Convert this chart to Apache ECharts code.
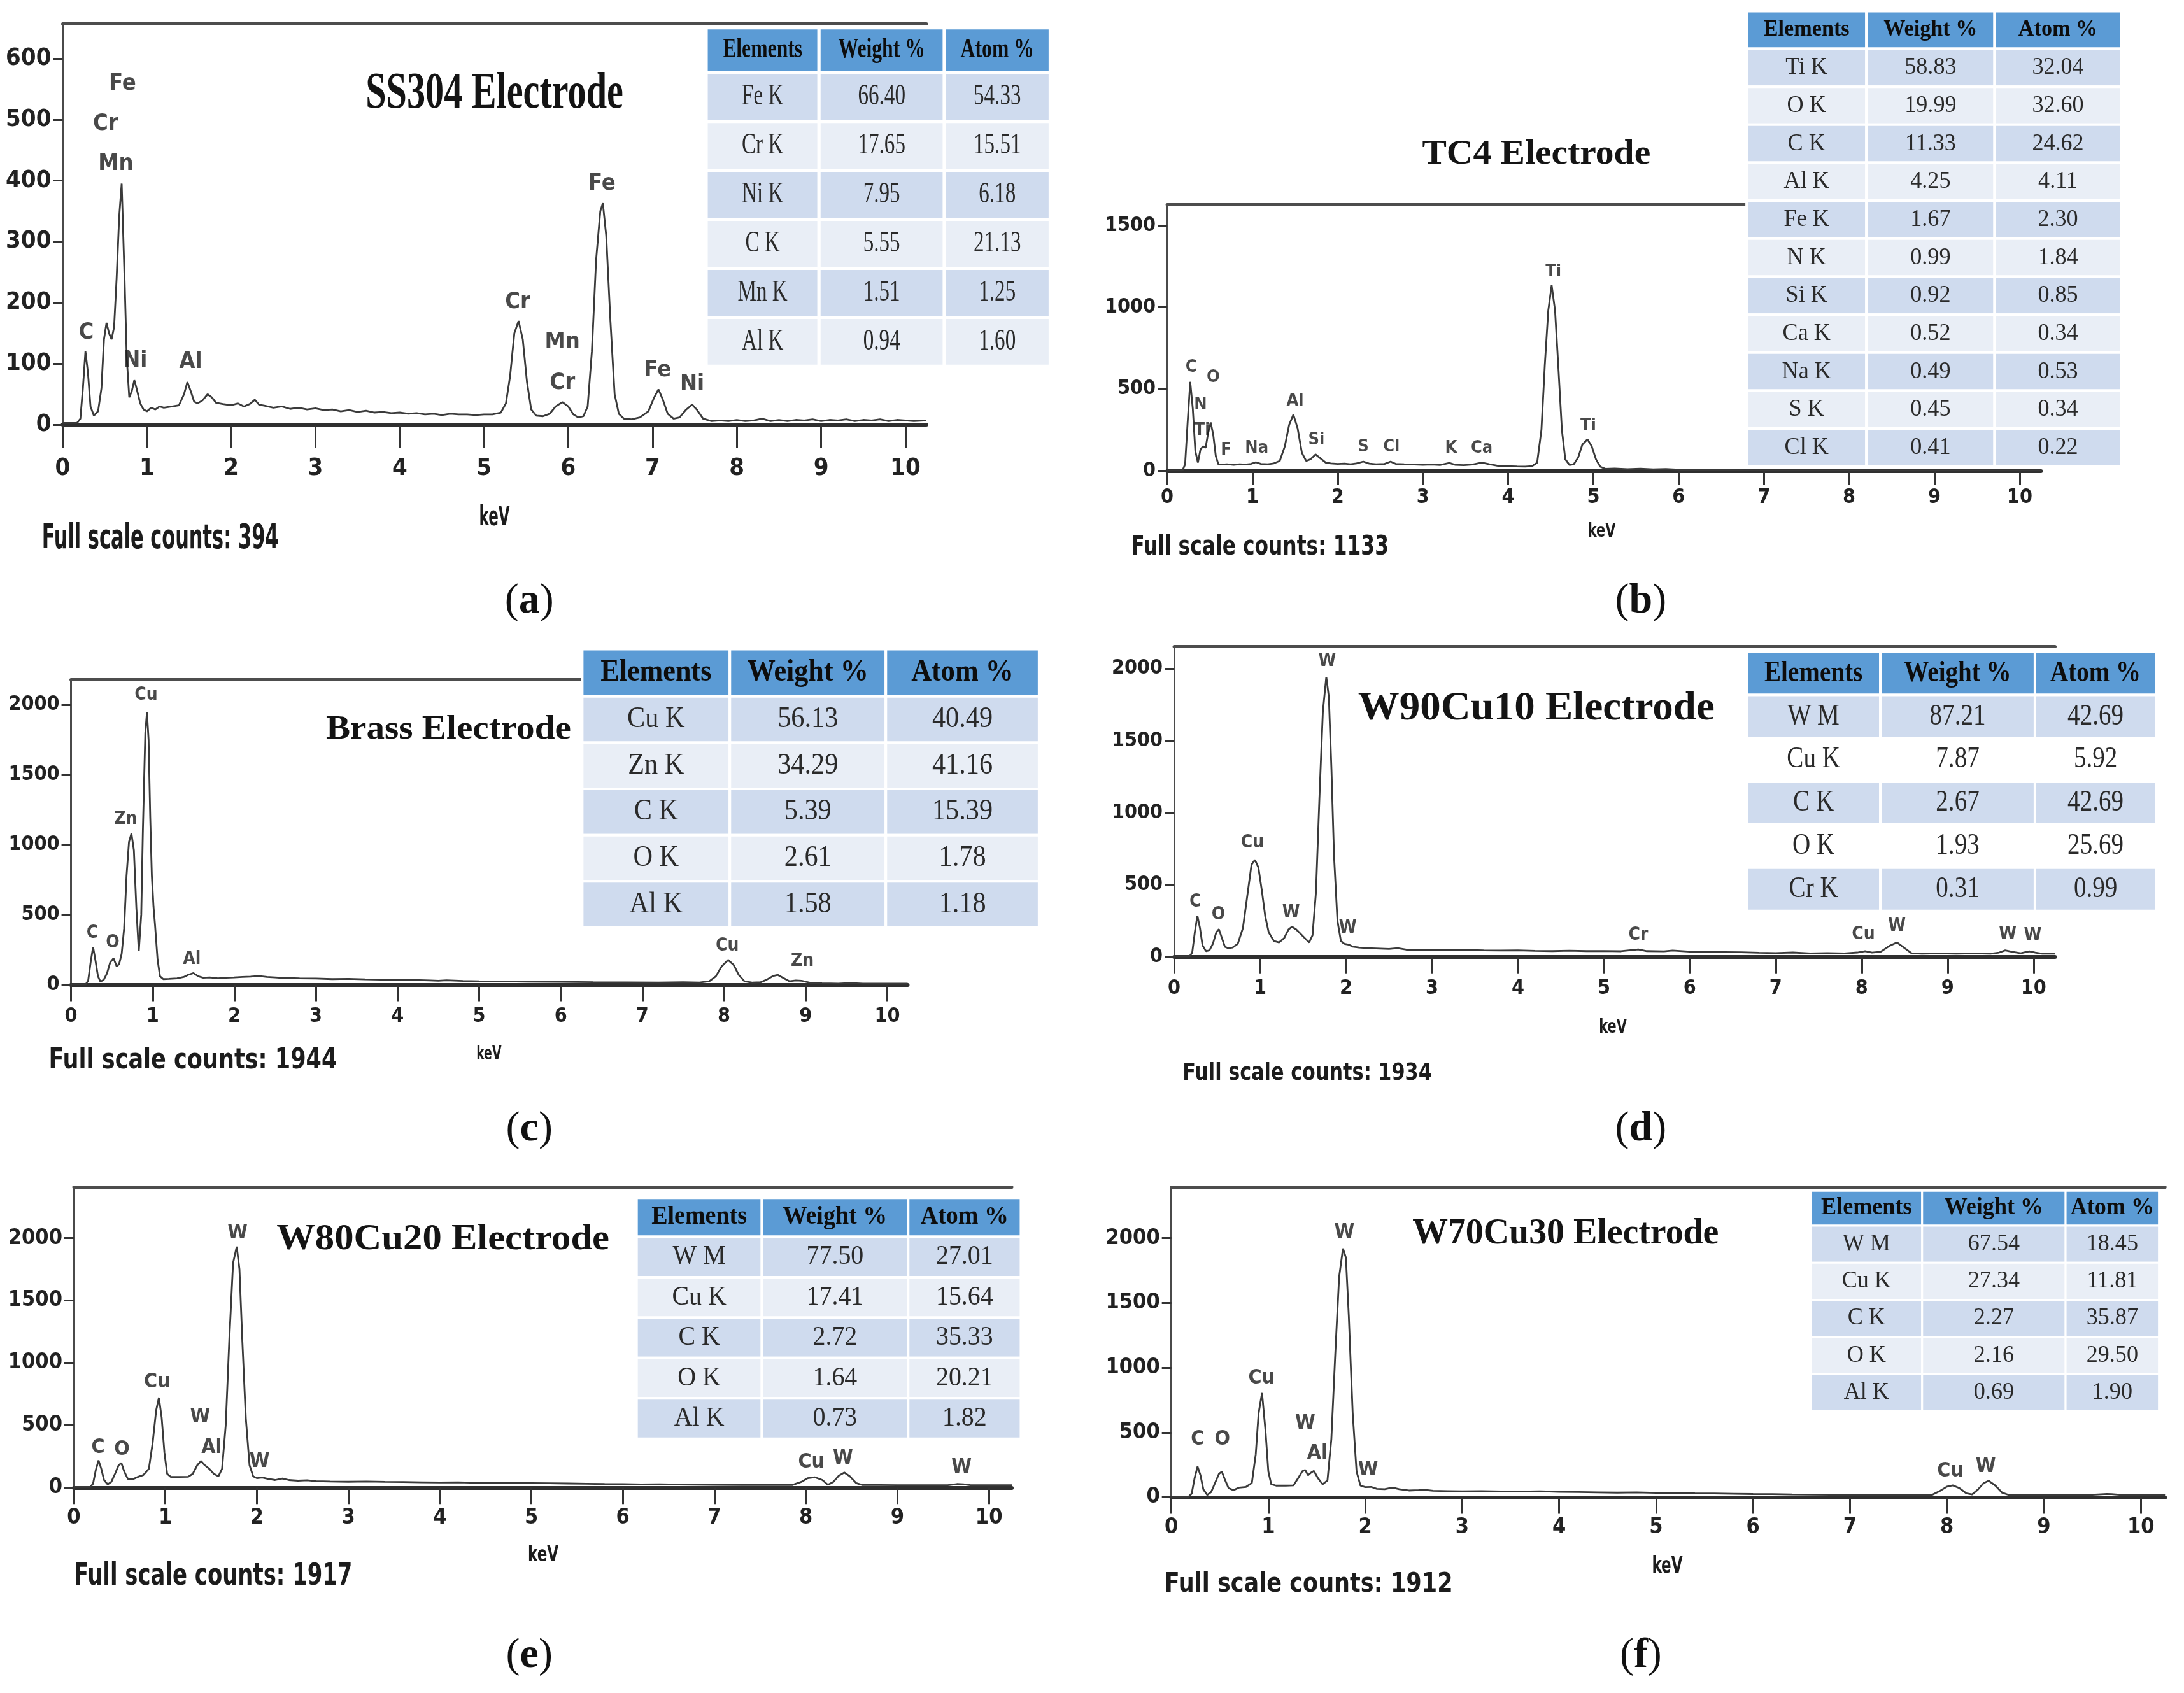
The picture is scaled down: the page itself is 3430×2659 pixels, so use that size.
<!DOCTYPE html>
<html><head><meta charset="utf-8">
<script src="https://cdn.jsdelivr.net/npm/echarts@6/dist/echarts.min.js"></script>
<style>html,body{margin:0;padding:0;background:#fff;}#chart{width:3430px;height:2659px;}</style>
</head><body><div id="chart"></div>
<script>
// ---------------- DATA ----------------
const keVTicks = [0,1,2,3,4,5,6,7,8,9,10];
const ss304YTicks = [0,100,200,300,400,500,600];
const tc4YTicks = [0,500,1000,1500];
const wideYTicks = [0,500,1000,1500,2000];

const ss304Spectrum = [[0,3],[0.1,3],[0.17,3],[0.21,10],[0.24,60],[0.27,120],[0.3,85],[0.33,30],[0.37,15],[0.42,22],[0.46,60],[0.49,140],[0.52,167],[0.55,150],[0.58,140],[0.61,160],[0.64,240],[0.67,340],[0.7,395],[0.73,260],[0.76,110],[0.79,45],[0.82,55],[0.85,73],[0.88,58],[0.92,35],[0.96,25],[1.0,22],[1.05,28],[1.1,25],[1.15,30],[1.2,28],[1.3,30],[1.38,32],[1.44,50],[1.48,70],[1.52,55],[1.56,38],[1.6,35],[1.66,40],[1.72,50],[1.77,45],[1.82,36],[1.9,34],[2.0,32],[2.08,35],[2.15,30],[2.22,34],[2.28,41],[2.33,33],[2.4,31],[2.5,28],[2.6,30],[2.7,26],[2.8,28],[2.9,25],[3.0,27],[3.1,24],[3.2,25],[3.3,22],[3.4,24],[3.5,21],[3.6,23],[3.7,20],[3.8,21],[3.9,19],[4.0,20],[4.1,18],[4.2,19],[4.3,17],[4.4,18],[4.5,16],[4.6,18],[4.7,17],[4.8,17],[4.9,16],[5.0,17],[5.1,17],[5.2,20],[5.26,35],[5.31,80],[5.36,150],[5.41,170],[5.46,140],[5.51,70],[5.56,25],[5.62,15],[5.7,14],[5.78,18],[5.85,30],[5.93,37],[6.0,30],[6.06,17],[6.12,12],[6.18,14],[6.23,30],[6.28,120],[6.33,270],[6.38,350],[6.41,363],[6.45,310],[6.5,170],[6.55,50],[6.6,18],[6.66,10],[6.75,9],[6.85,12],[6.95,22],[7.02,45],[7.07,58],[7.12,42],[7.18,18],[7.25,10],[7.32,12],[7.4,25],[7.47,33],[7.53,24],[7.6,10],[7.7,6],[7.8,7],[7.9,6],[8.0,8],[8.1,6],[8.2,7],[8.3,10],[8.4,6],[8.5,8],[8.6,6],[8.7,8],[8.8,7],[8.9,9],[9.0,6],[9.1,8],[9.2,7],[9.3,9],[9.4,6],[9.5,8],[9.6,7],[9.7,9],[9.8,6],[9.9,8],[10.0,7],[10.1,6],[10.25,7]];
const tc4Spectrum = [[0,2],[0.1,2],[0.18,2],[0.21,40],[0.24,300],[0.27,544],[0.3,380],[0.33,120],[0.36,50],[0.39,130],[0.42,150],[0.45,140],[0.48,230],[0.51,295],[0.54,220],[0.57,90],[0.6,40],[0.65,38],[0.7,40],[0.78,36],[0.85,40],[0.92,38],[0.98,42],[1.04,52],[1.1,42],[1.18,40],[1.25,45],[1.32,60],[1.38,150],[1.43,280],[1.48,343],[1.53,260],[1.58,110],[1.63,60],[1.68,70],[1.74,100],[1.8,75],[1.86,50],[1.92,45],[2.0,42],[2.08,44],[2.15,40],[2.22,45],[2.3,56],[2.37,44],[2.45,40],[2.55,42],[2.62,56],[2.68,42],[2.78,40],[2.9,38],[3.0,36],[3.1,38],[3.2,35],[3.31,48],[3.38,36],[3.48,34],[3.58,38],[3.69,50],[3.78,40],[3.88,30],[3.98,28],[4.1,26],[4.2,25],[4.28,28],[4.34,50],[4.39,250],[4.43,650],[4.47,980],[4.51,1135],[4.55,980],[4.59,620],[4.63,250],[4.67,70],[4.72,35],[4.77,40],[4.82,80],[4.87,160],[4.93,192],[4.98,150],[5.03,70],[5.08,25],[5.14,12],[5.25,14],[5.4,10],[5.55,13],[5.7,9],[5.85,11],[6.0,7],[6.2,8],[6.4,5],[6.6,4],[6.8,3],[7.0,2],[8.0,2],[9.0,2],[10.25,2]];
const brassSpectrum = [[0,3],[0.1,3],[0.18,3],[0.21,30],[0.24,160],[0.27,270],[0.3,170],[0.33,60],[0.36,22],[0.4,35],[0.44,80],[0.48,160],[0.52,189],[0.56,130],[0.59,150],[0.62,220],[0.65,400],[0.68,780],[0.71,1020],[0.74,1080],[0.77,960],[0.8,550],[0.83,240],[0.86,500],[0.88,1100],[0.91,1800],[0.93,1944],[0.95,1750],[0.97,1200],[0.99,780],[1.01,560],[1.03,420],[1.06,180],[1.09,60],[1.13,40],[1.2,42],[1.3,45],[1.38,55],[1.44,72],[1.5,83],[1.56,60],[1.62,50],[1.7,52],[1.8,45],[1.9,50],[2.0,52],[2.1,55],[2.2,58],[2.3,62],[2.4,55],[2.5,52],[2.6,48],[2.8,45],[3.0,44],[3.2,40],[3.4,42],[3.6,38],[3.8,36],[4.0,35],[4.2,34],[4.4,30],[4.5,28],[4.6,32],[4.8,27],[5.0,25],[5.3,24],[5.6,22],[6.0,20],[6.4,18],[6.8,17],[7.2,16],[7.5,18],[7.7,16],[7.82,25],[7.9,60],[7.97,130],[8.05,177],[8.12,140],[8.18,70],[8.25,25],[8.35,15],[8.45,18],[8.52,35],[8.6,62],[8.66,70],[8.72,50],[8.8,25],[8.88,30],[8.95,28],[9.05,14],[9.2,10],[9.4,8],[9.55,12],[9.7,8],[10.0,7],[10.25,7]];
const w90Spectrum = [[0,4],[0.1,4],[0.18,4],[0.21,30],[0.24,170],[0.27,285],[0.3,200],[0.33,80],[0.37,40],[0.41,45],[0.45,90],[0.49,170],[0.52,192],[0.55,140],[0.59,70],[0.63,60],[0.68,65],[0.74,90],[0.8,200],[0.85,420],[0.9,640],[0.94,672],[0.98,620],[1.02,460],[1.06,280],[1.1,170],[1.16,110],[1.22,100],[1.28,130],[1.33,190],[1.37,209],[1.42,190],[1.47,160],[1.52,130],[1.57,100],[1.61,150],[1.65,450],[1.69,1100],[1.73,1700],[1.77,1942],[1.8,1800],[1.83,1300],[1.86,700],[1.9,250],[1.94,110],[1.98,90],[2.03,85],[2.08,70],[2.15,65],[2.25,60],[2.35,58],[2.5,55],[2.6,60],[2.7,50],[2.85,48],[3.0,50],[3.2,47],[3.4,48],[3.6,45],[3.8,44],[4.0,45],[4.2,42],[4.4,40],[4.6,43],[4.8,40],[5.0,41],[5.2,39],[5.4,52],[5.5,40],[5.7,38],[5.8,44],[6.0,36],[6.2,34],[6.4,33],[6.6,32],[6.8,28],[7.0,26],[7.2,30],[7.4,24],[7.6,26],[7.8,24],[7.95,30],[8.04,40],[8.12,30],[8.22,35],[8.32,75],[8.41,100],[8.5,60],[8.58,25],[8.7,22],[8.9,24],[9.1,22],[9.3,24],[9.5,22],[9.6,30],[9.67,45],[9.75,35],[9.85,25],[9.95,38],[10.02,30],[10.1,22],[10.25,22]];
const w80Spectrum = [[0,4],[0.1,4],[0.18,5],[0.21,30],[0.24,140],[0.27,218],[0.3,150],[0.33,60],[0.37,25],[0.41,45],[0.45,110],[0.49,180],[0.52,196],[0.55,130],[0.59,70],[0.64,65],[0.7,85],[0.76,100],[0.82,150],[0.86,350],[0.9,620],[0.93,721],[0.96,560],[0.99,280],[1.02,110],[1.06,85],[1.15,85],[1.25,86],[1.3,110],[1.35,180],[1.39,212],[1.43,180],[1.48,150],[1.53,110],[1.58,90],[1.62,150],[1.66,500],[1.7,1200],[1.74,1800],[1.78,1932],[1.81,1750],[1.84,1200],[1.88,550],[1.92,180],[1.96,90],[2.0,75],[2.06,80],[2.12,70],[2.2,60],[2.28,72],[2.35,60],[2.45,55],[2.55,58],[2.65,50],[2.8,48],[3.0,46],[3.2,48],[3.4,45],[3.6,44],[3.8,42],[4.0,40],[4.2,42],[4.4,38],[4.6,40],[4.8,36],[5.0,35],[5.2,34],[5.4,32],[5.6,30],[5.8,28],[6.0,27],[6.2,25],[6.4,26],[6.6,24],[6.8,22],[7.0,21],[7.3,20],[7.6,20],[7.85,20],[7.95,45],[8.02,75],[8.1,82],[8.18,60],[8.24,22],[8.3,45],[8.36,95],[8.42,120],[8.48,90],[8.55,35],[8.62,20],[8.8,20],[9.0,19],[9.3,19],[9.55,19],[9.65,28],[9.72,26],[9.8,18],[10.0,18],[10.25,18]];
const w70Spectrum = [[0,4],[0.1,4],[0.18,5],[0.21,30],[0.24,150],[0.27,237],[0.3,170],[0.33,60],[0.37,18],[0.41,40],[0.45,110],[0.49,180],[0.52,198],[0.55,140],[0.59,70],[0.64,55],[0.7,75],[0.77,80],[0.83,110],[0.87,330],[0.9,650],[0.935,805],[0.97,520],[1.0,200],[1.03,100],[1.08,90],[1.18,90],[1.26,92],[1.31,150],[1.35,200],[1.38,211],[1.41,170],[1.44,190],[1.47,203],[1.51,150],[1.56,100],[1.61,130],[1.65,450],[1.69,1100],[1.73,1700],[1.77,1920],[1.8,1850],[1.83,1400],[1.87,650],[1.91,200],[1.95,90],[2.0,78],[2.06,80],[2.12,65],[2.2,62],[2.28,75],[2.35,62],[2.45,52],[2.55,55],[2.6,58],[2.7,50],[2.85,48],[3.0,46],[3.2,47],[3.4,45],[3.6,44],[3.8,46],[4.0,42],[4.2,40],[4.4,38],[4.6,36],[4.8,38],[5.0,34],[5.2,33],[5.4,30],[5.6,29],[5.8,27],[6.0,25],[6.2,24],[6.4,22],[6.6,21],[6.8,20],[7.0,20],[7.3,20],[7.6,19],[7.85,20],[7.93,50],[8.0,82],[8.06,92],[8.13,70],[8.2,30],[8.26,22],[8.32,60],[8.38,110],[8.43,127],[8.5,90],[8.57,35],[8.63,20],[8.9,20],[9.2,19],[9.5,19],[9.65,26],[9.7,24],[9.8,18],[10.0,18],[10.25,18]];

const ss304Peaks = [[0.71,559,'Fe'],[0.51,493,'Cr'],[0.63,427,'Mn'],[0.28,151,'C'],[0.86,105,'Ni'],[1.52,103,'Al'],[5.40,201,'Cr'],[5.93,135,'Mn'],[5.93,68,'Cr'],[6.40,395,'Fe'],[7.06,89,'Fe'],[7.47,66,'Ni']];
const tc4Peaks = [[0.28,631,'C'],[0.54,571,'O'],[0.39,401,'N'],[0.41,247,'Ti'],[0.69,128,'F'],[1.05,136,'Na'],[1.50,426,'Al'],[1.75,188,'Si'],[2.30,145,'S'],[2.63,145,'Cl'],[3.33,136,'K'],[3.69,136,'Ca'],[4.53,1219,'Ti'],[4.94,273,'Ti']];
const brassPeaks = [[0.92,2070,'Cu'],[0.67,1184,'Zn'],[0.26,368,'C'],[0.51,299,'O'],[1.48,179,'Al'],[8.04,279,'Cu'],[8.96,169,'Zn']];
const w90Peaks = [[1.78,2052,'W'],[0.91,790,'Cu'],[0.245,382,'C'],[0.515,292,'O'],[1.36,303,'W'],[2.02,198,'W'],[5.40,150,'Cr'],[8.02,155,'Cu'],[8.41,213,'W'],[9.70,155,'W'],[9.99,145,'W']];
const w80Peaks = [[1.79,2043,'W'],[0.91,846,'Cu'],[1.38,564,'W'],[1.505,321,'Al'],[0.265,318,'C'],[0.525,306,'O'],[2.03,208,'W'],[8.06,200,'Cu'],[8.405,233,'W'],[9.70,160,'W']];
const w70Peaks = [[1.785,2044,'W'],[0.93,917,'Cu'],[1.38,568,'W'],[1.505,337,'Al'],[0.27,448,'C'],[0.525,448,'O'],[2.03,213,'W'],[8.035,201,'Cu'],[8.40,235,'W']];

const ss304Elements = ['Fe K','Cr K','Ni K','C K','Mn K','Al K'];
const ss304Weight = [66.40,17.65,7.95,5.55,1.51,0.94];
const ss304Atom = [54.33,15.51,6.18,21.13,1.25,1.60];
const tc4Elements = ['Ti K','O K','C K','Al K','Fe K','N K','Si K','Ca K','Na K','S K','Cl K'];
const tc4Weight = [58.83,19.99,11.33,4.25,1.67,0.99,0.92,0.52,0.49,0.45,0.41];
const tc4Atom = [32.04,32.60,24.62,4.11,2.30,1.84,0.85,0.34,0.53,0.34,0.22];
const brassElements = ['Cu K','Zn K','C K','O K','Al K'];
const brassWeight = [56.13,34.29,5.39,2.61,1.58];
const brassAtom = [40.49,41.16,15.39,1.78,1.18];
const w90Elements = ['W M','Cu K','C K','O K','Cr K'];
const w90Weight = [87.21,7.87,2.67,1.93,0.31];
const w90Atom = [42.69,5.92,42.69,25.69,0.99];
const w80Elements = ['W M','Cu K','C K','O K','Al K'];
const w80Weight = [77.50,17.41,2.72,1.64,0.73];
const w80Atom = [27.01,15.64,35.33,20.21,1.82];
const w70Elements = ['W M','Cu K','C K','O K','Al K'];
const w70Weight = [67.54,27.34,2.27,2.16,0.69];
const w70Atom = [18.45,11.81,35.87,29.50,1.90];

const tableHeaders = ['Elements','Weight %','Atom %'];
const panelTitles = ['SS304 Electrode','TC4 Electrode','Brass Electrode','W90Cu10 Electrode','W80Cu20 Electrode','W70Cu30 Electrode'];
const fullScaleCounts = [394,1133,1944,1934,1917,1912];
const panelLetters = ['a','b','c','d','e','f'];
const xAxisName = 'keV';

// ---------------- LAYOUT (reference thumbnail units, scaled by K) ----------------
const K = 3430/1568;
const NARROW = "'Liberation Sans Narrow','DejaVu Sans Condensed','Arial Narrow','Liberation Sans',sans-serif";
const SERIF = "'Liberation Serif','Times New Roman',serif";
const XMAX = 10.25;

const panels = [
 {spec:ss304Spectrum, peaks:ss304Peaks, yTicks:ss304YTicks, el:ss304Elements, w:ss304Weight, at:ss304Atom,
  x0:45,x10:650,y0:305,yRefVal:600,yRefPix:42,top:17, tickFont:38, peakFont:36, xMargin:50, xTickLen:36,
  title:{cx:355,cy:68,w:185,size:80}, kev:{cx:355,cy:372,w:22,size:42}, fsc:{x1:30,x2:200,cy:387,size:54}, cap:{cx:380,cy:432},
  table:{cols:[507,588,678,754],top:20,headH:32,rowH:35.17,headSize:44,bodySize:46,sx:0.72,light:'#E9EEF6',gap:5}},
 {spec:tc4Spectrum, peaks:tc4Peaks, yTicks:tc4YTicks, el:tc4Elements, w:tc4Weight, at:tc4Atom,
  x0:838,x10:1450,y0:338,yRefVal:1500,yRefPix:162,top:147, tickFont:32, peakFont:27, xMargin:26, xTickLen:22,
  title:{cx:1103,cy:111,w:164,size:55}, kev:{cx:1150,cy:382,w:20,size:30}, fsc:{x1:812,x2:997,cy:393,size:42}, cap:{cx:1178,cy:432},
  table:{cols:[1254,1340,1432,1523],top:8,headH:27,rowH:27.27,headSize:36,bodySize:38,sx:0.95,light:'#E9EEF6',gap:4}},
 {spec:brassSpectrum, peaks:brassPeaks, yTicks:wideYTicks, el:brassElements, w:brassWeight, at:brassAtom,
  x0:51,x10:637,y0:707,yRefVal:2000,yRefPix:506,top:488, tickFont:32, peakFont:28, xMargin:34, xTickLen:26,
  title:{cx:322,cy:524,w:176,size:52}, kev:{cx:351,cy:757,w:18,size:30}, fsc:{x1:35,x2:242,cy:762,size:44}, cap:{cx:380,cy:811},
  table:{cols:[418,524,636,746],top:466,headH:34,rowH:33.2,headSize:48,bodySize:46,sx:0.92,light:'#E9EEF6',gap:4}},
 {spec:w90Spectrum, peaks:w90Peaks, yTicks:wideYTicks, el:w90Elements, w:w90Weight, at:w90Atom,
  x0:843,x10:1460,y0:687,yRefVal:2000,yRefPix:480,top:464, tickFont:32, peakFont:28, xMargin:34, xTickLen:26,
  title:{cx:1103,cy:509,w:256,size:63}, kev:{cx:1158,cy:738,w:20,size:30}, fsc:{x1:849,x2:1028,cy:771,size:38}, cap:{cx:1178,cy:811},
  table:{cols:[1254,1350,1461,1548],top:468,headH:31,rowH:31,headSize:46,bodySize:46,sx:0.85,light:'#FFFFFF',gap:4}},
 {spec:w80Spectrum, peaks:w80Peaks, yTicks:wideYTicks, el:w80Elements, w:w80Weight, at:w80Atom,
  x0:53,x10:710,y0:1068,yRefVal:2000,yRefPix:889,top:852, tickFont:34, peakFont:32, xMargin:31, xTickLen:26,
  title:{cx:318,cy:890,w:239,size:57}, kev:{cx:390,cy:1117,w:22,size:34}, fsc:{x1:53,x2:253,cy:1132,size:48}, cap:{cx:380,cy:1189},
  table:{cols:[457,547,652,733],top:860,headH:28,rowH:29,headSize:40,bodySize:42,sx:0.95,light:'#E9EEF6',gap:4}},
 {spec:w70Spectrum, peaks:w70Peaks, yTicks:wideYTicks, el:w70Elements, w:w70Weight, at:w70Atom,
  x0:841,x10:1537,y0:1075,yRefVal:2000,yRefPix:889,top:852, tickFont:34, peakFont:32, xMargin:31, xTickLen:26,
  title:{cx:1124,cy:886,w:220,size:56}, kev:{cx:1197,cy:1125,w:22,size:36}, fsc:{x1:836,x2:1043,cy:1138,size:42}, cap:{cx:1178,cy:1189},
  table:{cols:[1300,1380,1483,1550],top:855,headH:25,rowH:26.6,headSize:38,bodySize:38,sx:0.95,light:'#E9EEF6',gap:3}}
];

// ---------------- BUILD ----------------
const mctx = document.createElement('canvas').getContext('2d');
function measure(text, font){ mctx.font = font; return mctx.measureText(text).width; }
function txt(text, cx, cy, font, sx, fill, z){
  return {type:'text', x:cx, y:cy, scaleX:sx, z:z||20, silent:true,
    style:{text:text, font:font, fill:fill||'#111', align:'center', verticalAlign:'middle', textAlign:'center', textVerticalAlign:'middle'}};
}
function fit(text, cx, cy, targetW, font, fill){
  const s = targetW / measure(text, font);
  return txt(text, cx, cy, font, s, fill);
}
const plain = v => String(v);

const grids=[], xAxes=[], yAxes=[], series=[], graphics=[];
panels.forEach((p, i) => {
  const pxPerKeV = (p.x10 - p.x0)/10;
  const pxPerCount = (p.y0 - p.yRefPix)/p.yRefVal;
  const ymax = (p.y0 - p.top)/pxPerCount;
  const left = p.x0*K, top = p.top*K, width = XMAX*pxPerKeV*K, height = (p.y0-p.top)*K;
  grids.push({left:left, top:top, width:width, height:height, containLabel:false, outerBoundsMode:'none'});
  xAxes.push({type:'value', gridIndex:i, min:0, max:XMAX, position:'bottom',
    axisLine:{show:true, onZero:false, lineStyle:{color:'#2f2f2f', width:6}},
    axisTick:{show:true, length:p.xTickLen, customValues:keVTicks, lineStyle:{color:'#333', width:3}},
    axisLabel:{show:true, customValues:keVTicks, formatter:plain, margin:p.xMargin, fontSize:p.tickFont, fontWeight:'bold', fontFamily:NARROW, color:'#222'},
    splitLine:{show:false}});
  yAxes.push({type:'value', gridIndex:i, min:0, max:ymax,
    axisLine:{show:true, onZero:false, lineStyle:{color:'#4a4a4a', width:3}},
    axisTick:{show:true, length:15, customValues:p.yTicks, lineStyle:{color:'#333', width:3}},
    axisLabel:{show:true, customValues:p.yTicks, formatter:plain, margin:18, fontSize:p.tickFont, fontWeight:'bold', fontFamily:NARROW, color:'#222'},
    splitLine:{show:false}});
  series.push({type:'line', xAxisIndex:i, yAxisIndex:i, data:p.spec, showSymbol:false, symbol:'none', silent:true,
    lineStyle:{color:'#3a3a3a', width:2.8}, z:3});
  series.push({type:'scatter', xAxisIndex:i, yAxisIndex:i, symbolSize:1, silent:true, z:5,
    itemStyle:{color:'rgba(0,0,0,0)'},
    data:p.peaks.map(d => ({value:[d[0], d[1]], name:d[2]})),
    label:{show:true, position:'inside', formatter:'{b}', color:'#1c1c1c', fontWeight:'bold', fontSize:p.peakFont, fontFamily:NARROW}});

  // texts
  const tf = 'bold ' + p.title.size + 'px ' + SERIF;
  graphics.push(fit(panelTitles[i], p.title.cx*K, p.title.cy*K, p.title.w*K, tf, '#141414'));
  const kf = 'bold ' + p.kev.size + 'px ' + NARROW;
  graphics.push(fit(xAxisName, p.kev.cx*K, p.kev.cy*K, p.kev.w*K, kf, '#1c1c1c'));
  const ff = 'bold ' + p.fsc.size + 'px ' + NARROW;
  graphics.push(fit('Full scale counts: ' + fullScaleCounts[i], (p.fsc.x1+p.fsc.x2)/2*K, p.fsc.cy*K, (p.fsc.x2-p.fsc.x1)*K, ff, '#1c1c1c'));
  graphics.push({type:'text', x:p.cap.cx*K, y:p.cap.cy*K, z:20, silent:true,
    style:{text:'{p|(}{b|' + panelLetters[i] + '}{p|)}', align:'center', verticalAlign:'middle', textAlign:'center', textVerticalAlign:'middle',
      rich:{p:{fontFamily:SERIF, fontSize:66, fill:'#111'}, b:{fontFamily:SERIF, fontSize:66, fontWeight:'bold', fill:'#111'}}}});

  // table
  const T = p.table, cols = T.cols.map(c => c*K);
  const ty = T.top*K, hh = T.headH*K, rh = T.rowH*K;
  const hfont = 'bold ' + T.headSize + 'px ' + SERIF;
  const bfont = T.bodySize + 'px ' + SERIF;
  for (let c = 0; c < 3; c++){
    const cw = cols[c+1]-cols[c];
    graphics.push({type:'rect', z:10, silent:true, shape:{x:cols[c], y:ty, width:cw, height:hh},
      style:{fill:'#5B9BD5', stroke:'#ffffff', lineWidth:T.gap}});
    const hs = Math.min(T.sx, (cw-14)/measure(tableHeaders[c], hfont));
    graphics.push(txt(tableHeaders[c], cols[c]+cw/2, ty+hh/2, hfont, hs, '#0d0d0d', 12));
  }
  p.el.forEach((name, r) => {
    const vals = [name, p.w[r].toFixed(2), p.at[r].toFixed(2)];
    const yy = ty + hh + r*rh;
    const fill = (r % 2 === 0) ? '#CFDBEE' : T.light;
    for (let c = 0; c < 3; c++){
      const cw = cols[c+1]-cols[c];
      graphics.push({type:'rect', z:10, silent:true, shape:{x:cols[c], y:yy, width:cw, height:rh},
        style:{fill:fill, stroke:'#ffffff', lineWidth:T.gap}});
      graphics.push(txt(vals[c], cols[c]+cw/2, yy+rh/2, bfont, T.sx, '#2a2a2a', 12));
    }
  });
});

// top frame lines (second x axis per grid, on top)
panels.forEach((p, i) => {
  xAxes.push({type:'value', gridIndex:i, min:0, max:XMAX, position:'top',
    axisLine:{show:true, onZero:false, lineStyle:{color:'#4d4d4d', width:5}},
    axisTick:{show:false}, axisLabel:{show:false}, splitLine:{show:false}});
});

const chart = echarts.init(document.getElementById('chart'), null, {renderer:'canvas', width:3430, height:2659});
chart.setOption({
  animation:false,
  backgroundColor:'#ffffff',
  grid:grids, xAxis:xAxes, yAxis:yAxes, series:series,
  graphic:{elements:graphics}
});
</script>
</body></html>
